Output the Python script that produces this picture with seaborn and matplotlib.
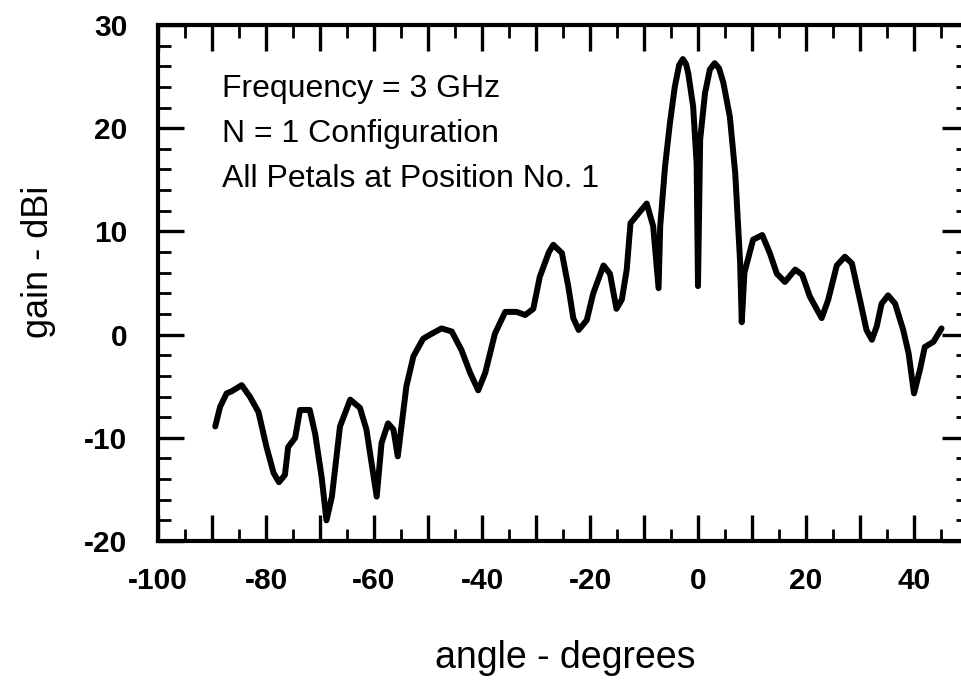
import matplotlib
matplotlib.use("Agg")
import matplotlib.pyplot as plt
import seaborn as sns
import pandas as pd
from matplotlib.ticker import MultipleLocator, FixedLocator

angle_deg = [-89.4, -88.5, -87.3, -86.4, -84.5, -83.0, -81.4, -79.9, -78.6, -77.6,
             -76.5, -75.9, -74.6, -73.7, -71.9, -70.9, -69.7, -68.8, -67.8, -66.3,
             -64.4, -62.6, -61.4, -59.5, -58.6, -57.4, -56.4, -55.6, -54.0, -52.7,
             -50.9, -49.6, -47.5, -45.6, -43.8, -42.2, -40.7, -39.4, -37.6, -35.7,
             -33.6, -32.0, -30.5, -29.3, -27.6, -26.8, -25.2, -24.0, -23.1, -22.1,
             -20.6, -19.4, -17.5, -16.3, -15.1, -14.1, -13.2, -12.5, -9.5, -8.3,
             -7.3, -7.0, -6.1, -5.2, -4.3, -3.5, -2.8, -2.2, -1.8, -0.9, -0.25, 0.0,
             0.4, 1.3, 2.2, 3.1, 3.9, 4.7, 5.9, 6.9, 7.8, 8.1, 8.6, 10.2,
             11.9, 13.3, 14.6, 16.1, 18.0, 19.3, 20.7, 22.9, 24.1, 25.7,
             27.2, 28.5, 30.0, 31.2, 32.2, 33.1, 34.0, 35.2, 36.5, 38.0,
             39.0, 40.0, 41.1, 42.0, 43.6, 45.1]

gain_dbi = [-8.9, -7.0, -5.7, -5.5, -4.9, -6.0, -7.5, -10.9, -13.4, -14.3,
            -13.6, -10.9, -10.0, -7.3, -7.3, -9.6, -13.8, -18.0, -15.7, -8.9,
            -6.3, -7.1, -9.2, -15.7, -10.5, -8.6, -9.2, -11.8, -5.0, -2.1,
            -0.4, 0.0, 0.6, 0.3, -1.5, -3.7, -5.4, -3.7, 0.1, 2.2,
            2.2, 1.9, 2.5, 5.6, 8.0, 8.7, 7.9, 4.6, 1.6, 0.45,
            1.4, 4.0, 6.7, 5.9, 2.5, 3.4, 6.3, 10.8, 12.7, 10.5,
            4.5, 10.5, 16.3, 20.5, 24.0, 26.1, 26.7, 26.2, 25.3, 22.1, 16.5, 4.7,
            18.9, 23.4, 25.7, 26.3, 25.8, 24.4, 21.1, 15.6, 7.0, 1.2, 6.0, 9.2,
            9.65, 7.9, 5.9, 5.1, 6.3, 5.8, 3.7, 1.6, 3.35, 6.7,
            7.55, 6.9, 3.35, 0.45, -0.5, 0.8, 3.0, 3.8, 3.0, 0.45,
            -1.8, -5.7, -3.4, -1.2, -0.7, 0.6]

x_ticks = [-100, -80, -60, -40, -20, 0, 20, 40]
y_ticks = [-20, -10, 0, 10, 20, 30]
notes = ["Frequency = 3 GHz", "N = 1 Configuration", "All Petals at Position No. 1"]
note_y = [23.05, 18.7, 14.35]

sns.set_style("ticks")
plt.rcParams['font.family'] = ['Liberation Sans', 'DejaVu Sans']
plt.rcParams['text.color'] = 'black'
plt.rcParams['xtick.color'] = 'black'
plt.rcParams['ytick.color'] = 'black'
plt.rcParams['axes.labelcolor'] = 'black'

fig = plt.figure(figsize=(9.61, 6.83), dpi=100)
W, H = 961.0, 683.0
ax = fig.add_axes([158 / W, (H - 541) / H, (968 - 158) / W, (541 - 25) / H])

df = pd.DataFrame({"angle": angle_deg, "gain": gain_dbi})
sns.lineplot(data=df, x="angle", y="gain", ax=ax, color="black", linewidth=4.3,
             sort=False, estimator=None, solid_joinstyle="round",
             solid_capstyle="round")

ax.set_xlim(-100, 50)
ax.set_ylim(-20, 30)
major_x = list(range(-100, 51, 10))
ax.xaxis.set_major_locator(FixedLocator(major_x))
ax.set_xticklabels([str(v) if v in x_ticks else "" for v in major_x])
ax.set_yticks(y_ticks)
ax.set_yticklabels([str(v) for v in y_ticks])
ax.xaxis.set_minor_locator(MultipleLocator(5))
ax.yaxis.set_minor_locator(MultipleLocator(2))

ax.tick_params(axis="both", which="major", direction="in", length=19, width=2.4,
               top=True, right=True, labelsize=21.5, colors="black")
ax.tick_params(axis="both", which="minor", direction="in", length=9, width=2.0,
               top=True, right=True, colors="black")
ax.tick_params(axis="x", which="major", pad=19)
ax.tick_params(axis="y", which="major", pad=22)
for lab in ax.get_xticklabels() + ax.get_yticklabels():
    lab.set_fontweight("bold")

for s in ax.spines.values():
    s.set_linewidth(3.0)
    s.set_color("black")

ax.set_xlabel("")
ax.set_ylabel("")
fig.text(565 / W, 1 - 658 / H, "angle - degrees", fontsize=27, ha="center",
         va="center", color="black")
fig.text(38 / W, 1 - 262 / H, "gain - dBi", fontsize=26, ha="center",
         va="center", rotation=90, color="black")

for txt, yv in zip(notes, note_y):
    ax.text(-88.2, yv, txt, fontsize=23, ha="left", va="baseline", color="black")

fig.savefig("out.png", dpi=100)
